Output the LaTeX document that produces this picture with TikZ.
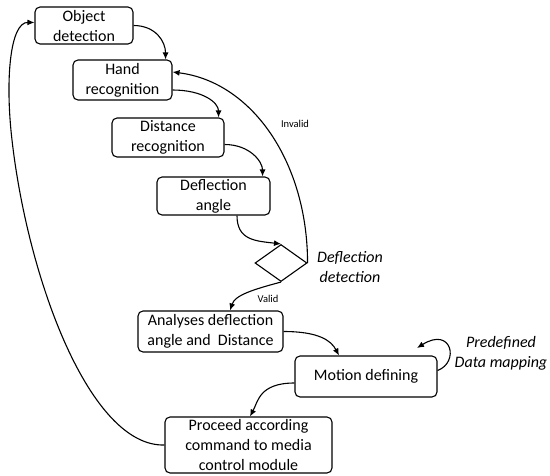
\documentclass[tikz,border=0pt]{standalone}
\usepackage{fontspec}
\setmainfont{Carlito}
\usetikzlibrary{shapes.geometric,arrows.meta,calc}
\begin{document}
\begin{tikzpicture}[x=1pt,y=-1pt,
  box/.style={draw,rounded corners=5pt,line width=1.1pt,align=center,inner sep=0pt,font=\fontsize{16}{20}\selectfont},
  conn/.style={line width=1.1pt,-{Latex[length=7pt,width=6pt]}},
  lbl/.style={font=\fontsize{10.5}{12}\selectfont},
  note/.style={font=\fontsize{16}{20}\selectfont\itshape,align=center}]
\useasboundingbox (0,0) rectangle (550,475);
\node[box,minimum width=98pt,minimum height=37pt] (b1) at (84,25.5) {Object\\detection};
\node[box,minimum width=99pt,minimum height=40pt] (b2) at (122.5,80) {Hand\\recognition};
\node[box,minimum width=112pt,minimum height=39pt] (b3) at (168,137.5) {Distance\\recognition};
\node[box,minimum width=113pt,minimum height=38pt] (b4) at (213.5,196) {Deflection\\angle};
\node[draw,diamond,line width=1.1pt,minimum width=52pt,minimum height=37pt,inner sep=0pt] (d) at (281,263) {};
\node[box,minimum width=145pt,minimum height=41pt] (b5) at (210.5,331.5) {Analyses deflection\\angle and~ Distance};
\node[box,minimum width=142pt,minimum height=41pt] (b6) at (366,376.5) {Motion defining};
\node[box,minimum width=167pt,minimum height=56pt] (b7) at (248.5,445) {Proceed according\\command to media\\control module};
\node[lbl] (inv) at (295,124) {Invalid};
\node[lbl] (val) at (268,299) {Valid};
\node[note] (dd) at (350,267) {Deflection\\detection};
\node[note] (pd) at (501,353) {Predefined\\Data mapping};
\coordinate (loopend) at (417,348);
\coordinate (fbw) at (12,140);
\draw[conn] (b1.east) .. controls +(22,0) and +(0,-18) .. ([xshift=-7pt]b2.north east);
\draw[conn] ([yshift=-10pt]b2.east) .. controls +(30,0) and +(0,-15) .. ([xshift=-6pt]b3.north east);
\draw[conn] ([yshift=-7pt]b3.east) .. controls +(25,0) and +(0,-15) .. ([xshift=-8pt]b4.north east);
\draw[conn] ([xshift=23.5pt]b4.south) .. controls +(0,25) and +(-25,-3) .. (d.north);
\draw[conn] (d.east) .. controls +(0,-100) and +(80,10) .. ([yshift=8pt]b2.east);
\draw[conn] (d.south) .. controls +(-30,8) and +(5,-15) .. ([xshift=19.5pt]b5.north);
\draw[conn] (b5.east) .. controls +(35,0) and +(-8,-15) .. ([xshift=-27pt]b6.north);
\draw[conn] ([yshift=-6.5pt]b6.west) .. controls +(-35,0) and +(8,-15) .. ([xshift=1.5pt]b7.north);
\draw[conn] ([yshift=6pt]b6.east) .. controls +(22,-8) and +(35,-22) .. (loopend);
\draw[conn] (b7.west) .. controls (90,447) and (28,280) .. (fbw) .. controls (5,80) and (10,22) .. ([yshift=3pt]b1.west);
\end{tikzpicture}
\end{document}
